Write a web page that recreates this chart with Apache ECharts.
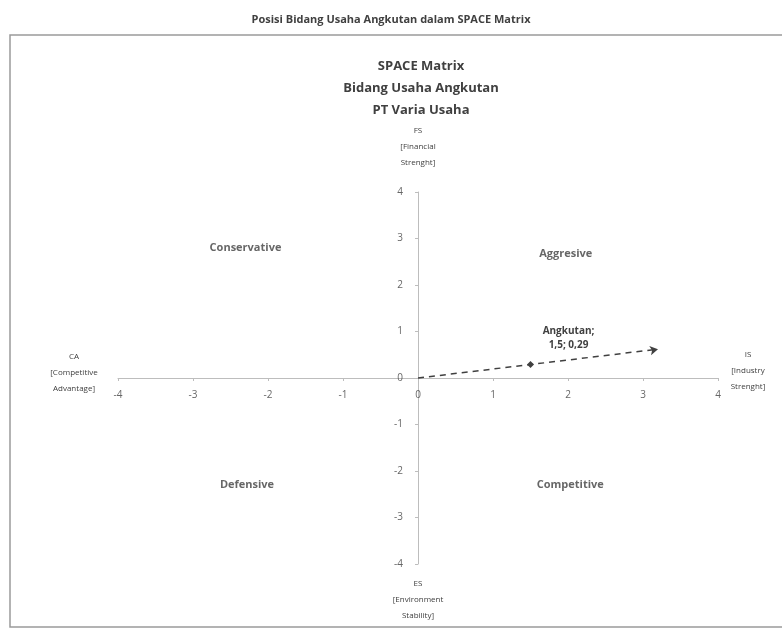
<!DOCTYPE html>
<html>
<head>
<meta charset="utf-8">
<script src="https://cdn.jsdelivr.net/npm/echarts@6/dist/echarts.min.js"></script>
<style>html,body{margin:0;padding:0;background:#fff;}#c{width:782px;height:630px;}</style>
</head>
<body>
<div id="c"></div>
<script>
// ---- data ----
const outerTitle = 'Posisi Bidang Usaha Angkutan dalam SPACE Matrix';
const innerTitle = ['SPACE Matrix', 'Bidang Usaha Angkutan', 'PT Varia Usaha'];
const axisMin = -4, axisMax = 4, axisStep = 1;
const xTickValues = [-4, -3, -2, -1, 0, 1, 2, 3, 4];
const xTickLabels = ['-4', '-3', '-2', '-1', '0', '1', '2', '3', '4'];
const yTickValues = [-4, -3, -2, -1, 0, 1, 2, 3, 4];
const yTickLabels = ['-4', '-3', '-2', '-1', '0', '1', '2', '3', '4'];
const pathX = [0, 1.5, 3.2];
const pathY = [0, 0.29, 0.62];
const pointName = 'Angkutan';
const pointLabel = 'Angkutan;\n1,5; 0,29';
const quadrantNames = ['Conservative', 'Aggresive', 'Defensive', 'Competitive'];
const quadrantX = [-2.3, 1.97, -2.28, 2.03];
const quadrantY = [2.8, 2.68, -2.3, -2.3];
const axisNames = {
  top: 'FS\n[Financial\nStrenght]',
  bottom: 'ES\n[Environment\nStability]',
  left: 'CA\n[Competitive\nAdvantage]',
  right: 'IS\n[Industry\nStrenght]'
};

const FONT = '"Open Sans", "Noto Sans", sans-serif';
const TXT = '#404040';

const chart = echarts.init(document.getElementById('c'), null, {renderer: 'canvas'});

const pathData = pathX.map((x, i) => {
  const d = {value: [x, pathY[i]]};
  if (i === 0) d.symbol = 'none';
  if (i === 1) {
    d.symbol = 'diamond'; d.symbolSize = 7;
    d.label = {show: true, formatter: pointLabel, position: 'top', offset: [38, -4],
      fontFamily: FONT, fontSize: 10, fontWeight: 'bold', color: TXT, lineHeight: 14, align: 'center'};
  }
  if (i === 2) { d.symbol = 'arrow'; d.symbolSize = [7, 8]; d.symbolRotate = -79; }
  return d;
});

const quadData = quadrantNames.map((n, i) => ({name: n, value: [quadrantX[i], quadrantY[i]]}));
const xTickData = xTickValues.map((v, i) => ({name: xTickLabels[i], value: [v, 0]}));
const yTickData = yTickValues.map((v, i) => ({name: yTickLabels[i], value: [0, v]}));

const axisCommon = {
  type: 'value', min: axisMin, max: axisMax, interval: axisStep,
  splitLine: {show: false},
  axisLine: {onZero: true, lineStyle: {color: '#bdbdbd', width: 1}},
  axisTick: {show: true, length: 3, lineStyle: {color: '#bdbdbd'}},
  axisLabel: {show: false}
};

function axisText(x, y, text) {
  return {type: 'text', x: x, y: y, silent: true,
    style: {text: text, align: 'center', verticalAlign: 'top',
      fontFamily: FONT, fontSize: 8, lineHeight: 16, fill: TXT}};
}

chart.setOption({
  animation: false,
  backgroundColor: '#fff',
  title: [
    {text: outerTitle, left: 'center', top: 9,
     textStyle: {fontFamily: FONT, fontSize: 11, fontWeight: 'bold', color: TXT}},
    {text: innerTitle.join('\n'), left: 416, top: 50, textAlign: 'center',
     textStyle: {fontFamily: FONT, fontSize: 13, fontWeight: 'bold', color: TXT, lineHeight: 22}}
  ],
  graphic: [
    {type: 'rect', shape: {x: 10, y: 35, width: 790, height: 592}, silent: true,
     style: {fill: 'none', stroke: '#9a9a9a', lineWidth: 1.5}, z: -1},
    axisText(418, 123, axisNames.top),
    axisText(418, 576, axisNames.bottom),
    axisText(74, 349, axisNames.left),
    axisText(748, 347, axisNames.right)
  ],
  grid: {left: 118, right: 64, top: 192, bottom: 66, containLabel: false},
  xAxis: axisCommon,
  yAxis: axisCommon,
  series: [
    {
      name: pointName, type: 'line', data: pathData,
      lineStyle: {color: TXT, width: 1.5, type: [6, 5]},
      itemStyle: {color: TXT},
      showAllSymbol: true, z: 5
    },
    {
      type: 'scatter', data: quadData, symbolSize: 0, silent: true,
      label: {show: true, position: 'inside', formatter: '{b}',
        fontFamily: FONT, fontSize: 11, fontWeight: 'bold', color: TXT}
    },
    {
      type: 'scatter', data: xTickData, symbolSize: 0, silent: true,
      label: {show: true, position: 'bottom', distance: 12, formatter: '{b}',
        fontFamily: FONT, fontSize: 10, color: TXT}
    },
    {
      type: 'scatter', data: yTickData, symbolSize: 0, silent: true,
      label: {show: true, position: 'left', distance: 15, formatter: '{b}',
        fontFamily: FONT, fontSize: 10, color: TXT}
    }
  ]
});
</script>
</body>
</html>
